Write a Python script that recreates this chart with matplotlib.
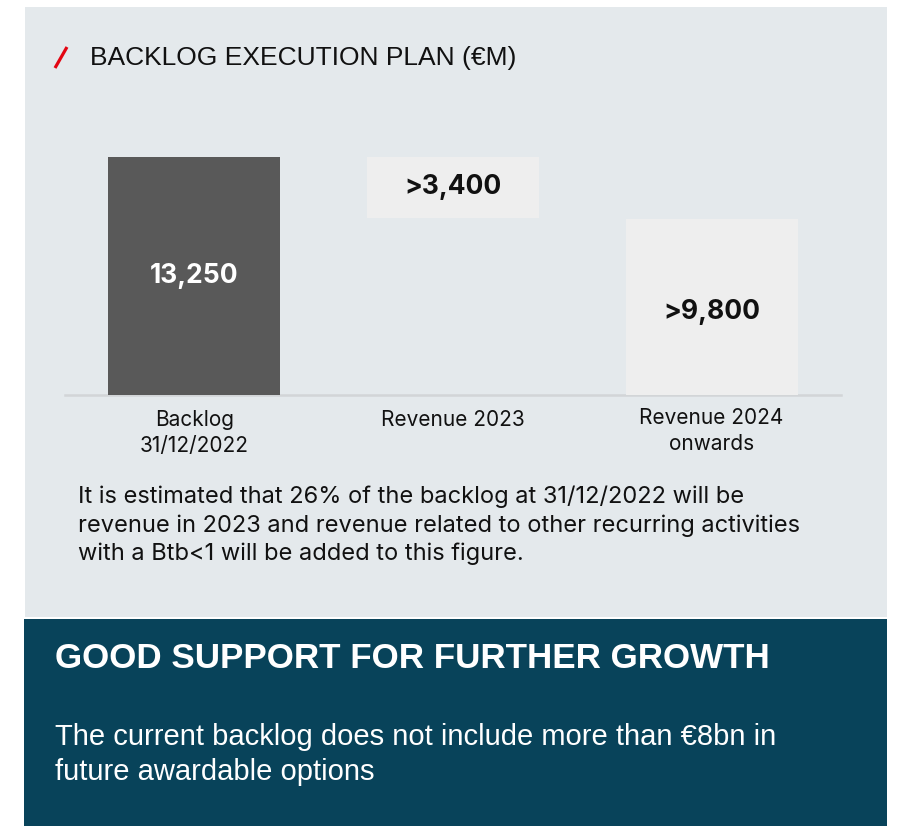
import matplotlib
matplotlib.use("Agg")
import matplotlib.pyplot as plt
from matplotlib.patches import Rectangle
from matplotlib.lines import Line2D
import matplotlib.transforms as mtransforms

# ---- data ----
categories = ["Backlog\n31/12/2022", "Revenue 2023", "Revenue 2024\nonwards"]
values = [13250, 3400, 9800]
value_labels = ["13,250", ">3,400", ">9,800"]
title = "BACKLOG EXECUTION PLAN (€M)"
note_lines = [
    "It is estimated that 26% of the backlog at 31/12/2022 will be",
    "revenue in 2023 and revenue related to other recurring activities",
    "with a Btb<1 will be added to this figure.",
]
banner_title = "GOOD SUPPORT FOR FURTHER GROWTH"
banner_lines = [
    "The current backlog does not include more than €8bn in",
    "future awardable options",
]

# waterfall bottoms: backlog from 0, 2023 revenue floats at the top, rest from 0
bottoms = [0, values[0] - values[1], 0]

W, H = 898, 826
fig = plt.figure(figsize=(W / 100, H / 100), dpi=100)
fig.patch.set_facecolor("white")

# background / decoration axes in pixel coordinates
bg = fig.add_axes([0, 0, 1, 1], zorder=0)
bg.set_xlim(0, W)
bg.set_ylim(H, 0)
bg.axis("off")

PANEL = "#E4E9EC"
DARK = "#08435A"
bg.add_patch(Rectangle((25, 7), 862, 610, facecolor=PANEL, edgecolor="none"))
bg.add_patch(Rectangle((24, 619), 863, 210, facecolor=DARK, edgecolor="none"))

# red slash + title
bg.add_line(Line2D([55, 67], [68, 47], color="#E30613", lw=2.3, solid_capstyle="butt"))
bg.text(90, 58, title, fontsize=19, family=["Liberation Sans", "DejaVu Sans"],
        color="#111111", va="center", ha="left")

# note paragraph
for i, line in enumerate(note_lines):
    bg.text(78, 497 + i * 28.5, line, fontsize=17, family=["Inter", "DejaVu Sans"],
            color="#111111", va="center", ha="left")

# banner
bg.text(55, 658, banner_title, fontsize=25.2, fontweight="bold",
        family=["Liberation Sans", "DejaVu Sans"], color="white", va="center", ha="left")
for i, line in enumerate(banner_lines):
    bg.text(55, 737 + i * 35, line, fontsize=21,
            family=["Liberation Sans", "DejaVu Sans"], color="white", va="center", ha="left")

# ---- bar axes ----
ax_left, ax_right = 65, 841
base_y, top_y = 395, 157
ax = fig.add_axes([ax_left / W, (H - base_y) / H, (ax_right - ax_left) / W, (base_y - top_y) / H],
                  zorder=2)
ax.patch.set_alpha(0)
x = list(range(len(categories)))
colors = ["#595959", "#EEEEEE", "#EEEEEE"]
ax.bar(x, values, bottom=bottoms, width=0.665, color=colors, edgecolor="none", zorder=2)
ax.set_xlim(-0.5, len(categories) - 0.5)
ax.set_ylim(0, values[0])
for s in ax.spines.values():
    s.set_visible(False)
ax.set_xticks([])
ax.set_yticks([])
ax.axhline(0, color="#D2D5D7", lw=1.8, zorder=1, clip_on=False)

txt_colors = ["white", "#111111", "#111111"]
label_offsets = [0, 1, -5]  # pixels
for xi, v, b, lab, c, off in zip(x, values, bottoms, value_labels, txt_colors, label_offsets):
    ax.annotate(lab, (xi, b + v / 2), xytext=(0, off), textcoords="offset pixels",
                ha="center", va="center", fontsize=19, fontweight="bold",
                family=["Inter", "DejaVu Sans"], color=c, zorder=3)

trans = mtransforms.blended_transform_factory(ax.transData, bg.transData)
label_y = [433, 420, 431]
for xi, cat, ly in zip(x, categories, label_y):
    bg.text(xi, ly, cat, transform=trans, ha="center", va="center", fontsize=15,
            family=["Inter", "DejaVu Sans"], color="#111111", linespacing=1.35)

fig.savefig("out.png", dpi=100, facecolor=fig.get_facecolor())
